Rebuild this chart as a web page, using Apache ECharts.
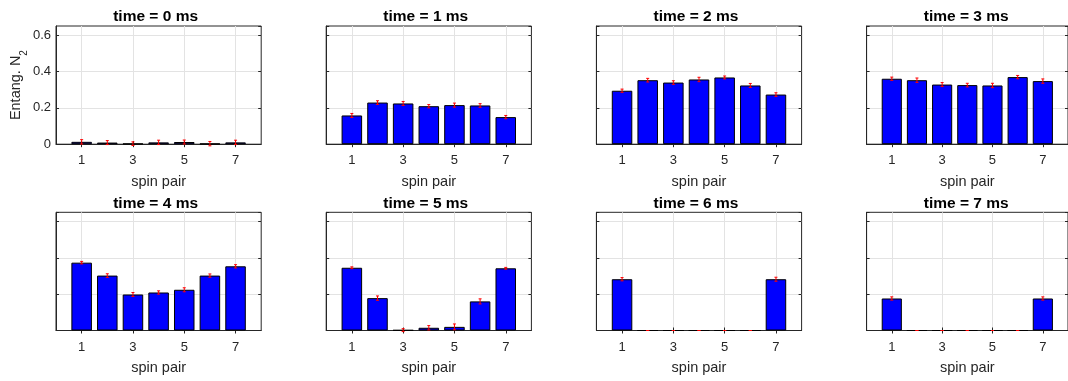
<!DOCTYPE html>
<html>
<head>
<meta charset="utf-8">
<style>
  html, body { margin: 0; padding: 0; background: #fff; }
  #chart { width: 1068px; height: 381px; }
</style>
<script src="https://cdn.jsdelivr.net/npm/echarts@6/dist/echarts.min.js"></script>
</head>
<body>
<div id="chart"></div>
<script>
// x positions 0..8; bars sit on spin pairs 1..7
const categories = ['0', '1', '2', '3', '4', '5', '6', '7', '8'];
const spinPairs = [1, 2, 3, 4, 5, 6, 7];
const xTickLabels = ['1', '3', '5', '7'];
const yTicks = [0, 0.2, 0.4, 0.6];

const panelTitles = ['time = 0 ms', 'time = 1 ms', 'time = 2 ms', 'time = 3 ms',
                     'time = 4 ms', 'time = 5 ms', 'time = 6 ms', 'time = 7 ms'];

// entanglement N2 per spin pair, one array per time step
const entT0 = [0.013, 0.009, 0.003, 0.010, 0.012, 0.003, 0.010];
const entT1 = [0.158, 0.229, 0.224, 0.209, 0.215, 0.213, 0.149];
const entT2 = [0.294, 0.352, 0.339, 0.356, 0.367, 0.323, 0.273];
const entT3 = [0.360, 0.352, 0.328, 0.325, 0.323, 0.369, 0.347];
const entT4 = [0.373, 0.302, 0.198, 0.209, 0.224, 0.302, 0.353];
const entT5 = [0.345, 0.178, 0.002, 0.015, 0.020, 0.160, 0.342];
const entT6 = [0.282, 0, 0, 0, 0, 0, 0.282];
const entT7 = [0.176, 0, 0, 0, 0, 0, 0.176];

// error bar half-lengths
const errT0 = [0.012, 0.011, 0.010, 0.012, 0.011, 0.012, 0.012];
const errT1 = [0.011, 0.010, 0.011, 0.009, 0.011, 0.010, 0.009];
const errT2 = [0.009, 0.010, 0.010, 0.012, 0.008, 0.011, 0.010];
const errT3 = [0.009, 0.012, 0.011, 0.010, 0.012, 0.009, 0.012];
const errT4 = [0.007, 0.010, 0.011, 0.009, 0.011, 0.009, 0.009];
const errT5 = [0.005, 0.012, 0.008, 0.012, 0.016, 0.014, 0.005];
const errT6 = [0.009, 0, 0, 0, 0, 0, 0.011];
const errT7 = [0.009, 0, 0, 0, 0, 0, 0.009];

const entData = [entT0, entT1, entT2, entT3, entT4, entT5, entT6, entT7];
const errData = [errT0, errT1, errT2, errT3, errT4, errT5, errT6, errT7];

const FONT = '"Liberation Sans", Arial, Helvetica, sans-serif';
const AXIS_COLOR = '#262626';
const GRID_COLOR = '#e3e3e3';

const colLeft = [56, 326.2, 596.4, 866.6];
const rowTop = [26, 212.3];
const gridW = 205.2;
const gridH = 118.2;

const oddIdx = (i) => i % 2 === 1;

const grids = [], xAxes = [], yAxes = [], series = [], titles = [];

for (let p = 0; p < 8; p++) {
  const col = p % 4, row = Math.floor(p / 4);
  grids.push({
    left: colLeft[col], top: rowTop[row], width: gridW, height: gridH,
    show: true, borderColor: AXIS_COLOR, borderWidth: 1, backgroundColor: 'transparent'
  });
  titles.push({
    text: panelTitles[p],
    left: colLeft[col] + gridW / 2 - 3,
    top: rowTop[row] - 9,
    padding: 0,
    textAlign: 'center',
    textVerticalAlign: 'middle',
    textStyle: { fontFamily: FONT, fontSize: 15.5, fontWeight: 'bold', color: '#000' }
  });

  // bottom category axis
  xAxes.push({
    gridIndex: p, type: 'category', data: categories, boundaryGap: false,
    axisLine: { show: true, lineStyle: { color: AXIS_COLOR, width: 1 } },
    axisTick: { show: true, inside: true, length: 3, interval: oddIdx, lineStyle: { color: AXIS_COLOR } },
    axisLabel: {
      interval: oddIdx, margin: 10, color: '#262626', fontFamily: FONT, fontSize: 13,
      formatter: (v) => (xTickLabels.indexOf(v) >= 0 ? v : '')
    },
    splitLine: { show: true, interval: oddIdx, lineStyle: { color: GRID_COLOR, width: 1 } },
    name: 'spin pair', nameLocation: 'middle', nameGap: 30,
    nameTextStyle: { fontFamily: FONT, fontSize: 14.5, color: '#262626' }
  });
  // top axis: tick marks only
  xAxes.push({
    gridIndex: p, type: 'category', data: categories, boundaryGap: false, position: 'top',
    axisLine: { show: false },
    axisTick: { show: true, inside: true, length: 3, interval: oddIdx, lineStyle: { color: AXIS_COLOR } },
    axisLabel: { show: false }, splitLine: { show: false }
  });

  const firstPanel = p === 0;
  yAxes.push({
    gridIndex: p, type: 'value', min: 0, max: 0.65, interval: 0.2,
    axisLine: { show: true, lineStyle: { color: AXIS_COLOR, width: 1 } },
    axisTick: { show: true, inside: true, length: 3, lineStyle: { color: AXIS_COLOR } },
    axisLabel: {
      show: firstPanel, showMaxLabel: false, margin: 5, color: '#262626', fontFamily: FONT, fontSize: 13,
      formatter: (v) => (yTicks.some(t => Math.abs(t - v) < 1e-9) ? String(+v.toFixed(1)) : '')
    },
    splitLine: { show: true, showMaxLine: false, lineStyle: { color: GRID_COLOR, width: 1 } },
    name: firstPanel ? '{n|Entang. N}{s|2}' : '',
    nameLocation: 'middle', nameGap: 30, nameRotate: 90,
    nameTextStyle: {
      fontFamily: FONT, color: '#262626',
      rich: {
        n: { fontFamily: FONT, fontSize: 14.5, color: '#262626' },
        s: { fontFamily: FONT, fontSize: 10, color: '#262626', verticalAlign: 'bottom', padding: [0, 0, -6, 0] }
      }
    }
  });
  // right axis: tick marks only
  yAxes.push({
    gridIndex: p, type: 'value', min: 0, max: 0.65, interval: 0.2, position: 'right',
    axisLine: { show: false },
    axisTick: { show: true, inside: true, length: 3, lineStyle: { color: AXIS_COLOR } },
    axisLabel: { show: false }, splitLine: { show: false }
  });

  const vals = entData[p], errs = errData[p];
  const barData = categories.map(() => null);
  const errPts = [];
  spinPairs.forEach((sp, i) => {
    barData[sp] = vals[i];
    errPts.push([sp, vals[i], errs[i]]);
  });

  series.push({
    type: 'bar', xAxisIndex: 2 * p, yAxisIndex: 2 * p, data: barData,
    barWidth: '80%', silent: true, animation: false,
    itemStyle: { color: '#0000ff', borderColor: '#000', borderWidth: 1 }
  });
  series.push({
    type: 'custom', xAxisIndex: 2 * p, yAxisIndex: 2 * p, data: errPts,
    silent: true, animation: false, z: 10,
    renderItem: (params, api) => {
      const x = api.value(0), v = api.value(1), e = api.value(2);
      const hi = api.coord([x, v + e]);
      const lo = api.coord([x, v - e]);
      const cap = 1.5;
      const style = { stroke: '#ff0000', lineWidth: 1 };
      return {
        type: 'group',
        children: [
          { type: 'line', shape: { x1: hi[0], y1: hi[1], x2: lo[0], y2: lo[1] }, style },
          { type: 'line', shape: { x1: hi[0] - cap, y1: hi[1], x2: hi[0] + cap, y2: hi[1] }, style },
          { type: 'line', shape: { x1: lo[0] - cap, y1: lo[1], x2: lo[0] + cap, y2: lo[1] }, style }
        ]
      };
    }
  });
}

const chart = echarts.init(document.getElementById('chart'), null, { renderer: 'canvas' });
chart.setOption({
  animation: false,
  backgroundColor: '#fff',
  title: titles,
  grid: grids,
  xAxis: xAxes,
  yAxis: yAxes,
  series: series
});
</script>
</body>
</html>
